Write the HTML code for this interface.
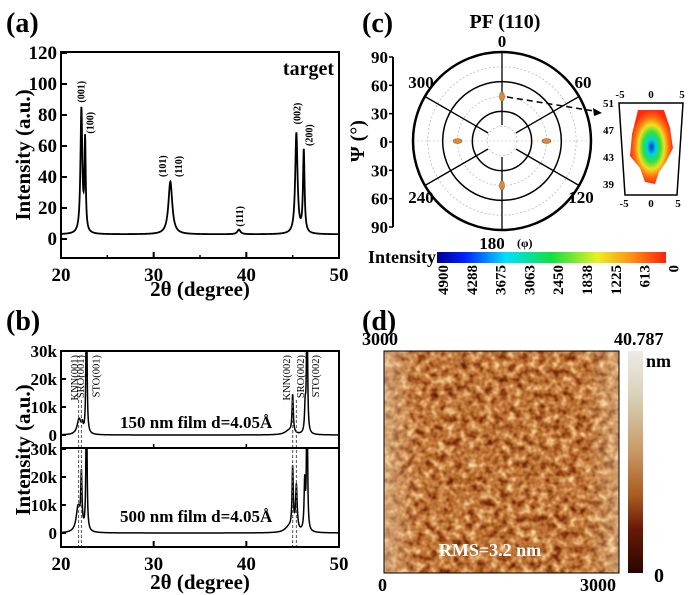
<!DOCTYPE html>
<html><head><meta charset="utf-8"><style>
html,body{margin:0;padding:0;background:#fff;}
svg{display:block;font-family:"Liberation Serif",serif;font-weight:bold;}
</style></head><body>
<svg id="fig" width="693" height="595" viewBox="0 0 693 595">
<defs>
<clipPath id="clipA"><rect x="61" y="52" width="278" height="206"/></clipPath>
<clipPath id="clipB1"><rect x="61" y="351" width="278" height="97"/></clipPath>
<clipPath id="clipB2"><rect x="61" y="448" width="278" height="99"/></clipPath>
<linearGradient id="jet" x1="0" x2="1" y1="0" y2="0">
<stop offset="0" stop-color="#00008f"/><stop offset="0.12" stop-color="#0020ff"/><stop offset="0.3" stop-color="#00e0ff"/>
<stop offset="0.5" stop-color="#10e040"/><stop offset="0.7" stop-color="#e8f020"/><stop offset="0.85" stop-color="#ff9010"/><stop offset="1" stop-color="#ff2010"/></linearGradient>
<linearGradient id="afmbar" x1="0" x2="0" y1="0" y2="1">
<stop offset="0" stop-color="#ecece6"/><stop offset="0.2" stop-color="#d8d2b8"/><stop offset="0.45" stop-color="#c89a68"/>
<stop offset="0.65" stop-color="#a85c20"/><stop offset="0.8" stop-color="#6a1a08"/><stop offset="1" stop-color="#2a0500"/></linearGradient>
<radialGradient id="inset" cx="0.5" cy="0.5" r="0.5">
<stop offset="0" stop-color="#0030d0"/><stop offset="0.2" stop-color="#00d0e0"/><stop offset="0.4" stop-color="#30e040"/>
<stop offset="0.6" stop-color="#f0e020"/><stop offset="0.8" stop-color="#ff7010"/><stop offset="1" stop-color="#ff2a10"/></radialGradient>
<filter id="afm" x="0" y="0" width="100%" height="100%" color-interpolation-filters="sRGB">
<feTurbulence type="fractalNoise" baseFrequency="0.13" numOctaves="2" seed="7" result="n"/>
<feColorMatrix in="n" type="matrix" values="1 0 0 0 0  1 0 0 0 0  1 0 0 0 0  0 0 0 0 1" result="g"/>
<feComponentTransfer in="g">
<feFuncR type="table" tableValues="0.28 0.40 0.55 0.70 0.80 0.90 0.96 0.98"/>
<feFuncG type="table" tableValues="0.06 0.12 0.24 0.40 0.52 0.70 0.86 0.90"/>
<feFuncB type="table" tableValues="0.02 0.03 0.08 0.16 0.28 0.46 0.66 0.74"/>
</feComponentTransfer>
</filter>
<linearGradient id="edge" x1="0" x2="1"><stop offset="0" stop-color="#f0e0c0" stop-opacity="0.45"/><stop offset="0.15" stop-color="#f0e0c0" stop-opacity="0"/><stop offset="0.85" stop-color="#f0e0c0" stop-opacity="0"/><stop offset="1" stop-color="#f0e0c0" stop-opacity="0.4"/></linearGradient>
</defs>

<text x="6" y="32" font-size="28">(a)</text>
<g id="panelA"></g>
<text x="6" y="330" font-size="28">(b)</text>
<g id="panelB"></g>
<text x="362" y="32" font-size="28">(c)</text>
<text x="505" y="28" font-size="20" text-anchor="middle">PF (110)</text>
<g id="panelC"></g>
<text x="362" y="330" font-size="28">(d)</text>
<g id="panelD">
<rect x="384" y="351" width="235" height="222" filter="url(#afm)"/>
<rect x="384" y="351" width="235" height="222" fill="url(#edge)"/>
<rect x="384" y="351" width="235" height="222" fill="none" stroke="#000" stroke-width="1"/>
<text x="490" y="556" font-size="18" fill="#fff" text-anchor="middle">RMS=3.2 nm</text>
<text x="362" y="345" font-size="18">3000</text>
<text x="378" y="591" font-size="18">0</text>
<text x="580" y="591" font-size="18">3000</text>
<rect x="628" y="351" width="15" height="222" fill="url(#afmbar)"/>
<text x="614" y="345" font-size="18">40.787</text>
<text x="646" y="367" font-size="18">nm</text>
<text x="654" y="582" font-size="20">0</text>
</g>
</svg>
<script>
// ---------- Panel A data ----------
const aPeakPos = [22.2, 22.6, 31.8, 39.2, 45.4, 46.2];
const aPeakHeight = [80, 58, 34, 3, 65, 53];
const aPeakWidth = [0.12, 0.08, 0.25, 0.2, 0.15, 0.1];
const aPeakLabels = ["(001)", "(100)", "(101)", "(110)", "(111)", "(002)", "(200)"];
const aLabelPos = [22.1, 23.1, 30.9, 32.6, 39.2, 45.4, 46.7];
const aLabelVal = [88, 68, 40, 40, 8, 74, 60];
const aBaseline = 3;
const aXTicks = [20, 30, 40, 50];
const aYTicks = [0, 20, 40, 60, 80, 100, 120];

// ---------- Panel B data ----------
const bTopPos = [21.95, 22.3, 22.75, 44.6, 45.0, 46.35, 46.55];
const bTopHeight = [5500, 2500, 60000, 1500, 13500, 9000, 60000];
const bTopWidth = [0.25, 0.1, 0.06, 0.5, 0.08, 0.08, 0.06];
const bBotPos = [21.85, 22.2, 22.75, 44.6, 45.0, 45.4, 46.3, 46.55];
const bBotHeight = [9000, 19000, 60000, 2000, 22000, 16000, 17000, 60000];
const bBotWidth = [0.25, 0.08, 0.06, 0.5, 0.08, 0.1, 0.08, 0.06];
const bDashPos = [21.9, 22.2, 45.0, 45.4];
const bLabels = ["KNN(001)", "SRO(001)", "STO(001)", "KNN(002)", "SRO(002)", "STO(002)"];
const bLabelPos = [21.4, 22.05, 23.7, 44.3, 45.8, 47.4];
const bYTicks = [0, 10000, 20000, 30000];
const bYTickLabels = ["0", "10k", "20k", "30k"];

// ---------- Panel C data ----------
const cSpotPhi = [0, 90, 180, 270];
const cSpotPsi = [45, 45, 45, 45];
const cRadialAngles = [0, 60, 120, 180, 240, 300];
const cPsiTicks = ["90", "60", "30", "0", "30", "60", "90"];
const cColorbarLabels = ["4900", "4288", "3675", "3063", "2450", "1838", "1225", "613", "0"];

const NS = "http://www.w3.org/2000/svg";
function mk(tag, attrs, parent) {
  const e = document.createElementNS(NS, tag);
  for (const k in attrs) e.setAttribute(k, attrs[k]);
  parent.appendChild(e);
  return e;
}
function txt(str, attrs, parent) { const t = mk("text", attrs, parent); t.textContent = str; return t; }
function lor(x, pos, h, w) { let s = 0; for (let i = 0; i < pos.length; i++) { const d = (x - pos[i]) / w[i]; s += h[i] / (1 + d * d); } return s; }

// ----- Panel A -----
const gA = document.getElementById("panelA");
const ax = v => 61 + (v - 20) / 30 * 278;
const ay = v => 239 - v * 1.55;
{
  let d = "";
  for (let x = 20; x <= 50; x += 0.02) {
    const v = aBaseline + lor(x, aPeakPos, aPeakHeight, aPeakWidth);
    d += (d ? "L" : "M") + ax(x).toFixed(2) + "," + ay(v).toFixed(2);
  }
  const p = mk("path", { d: d, fill: "none", stroke: "#000", "stroke-width": 1.8, "clip-path": "url(#clipA)" }, gA);
  
  
  const f = mk("rect", { x: 61, y: 52, width: 278, height: 206, fill: "none", stroke: "#000", "stroke-width": 2 }, gA);
  
  
  aXTicks.forEach(t => {
    mk("line", { x1: ax(t), x2: ax(t), y1: 258, y2: 252, stroke: "#000", "stroke-width": 2 }, gA);
    const l = txt(String(t), { x: ax(t), y: 281, "font-size": 19, "text-anchor": "middle" }, gA);
    
    
    if (t < 50) mk("line", { x1: ax(t + 5), x2: ax(t + 5), y1: 258, y2: 255, stroke: "#000", "stroke-width": 1.5 }, gA);
  });
  aYTicks.forEach(t => {
    mk("line", { x1: 61, x2: 67, y1: ay(t), y2: ay(t), stroke: "#000", "stroke-width": 2 }, gA);
    const l = txt(String(t), { x: 57, y: ay(t) + 6, "font-size": 19, "text-anchor": "end" }, gA);
    
    
  });
  aPeakLabels.forEach((s, i) => {
    const x = ax(aLabelPos[i]) + 4, y = ay(aLabelVal[i]);
    const l = txt(s, { x: x, y: y, "font-size": 10, "text-anchor": "start", transform: `rotate(-90 ${x} ${y})` }, gA);
    
    
  });
  const tg = txt("target", { x: 334, y: 75, "font-size": 20, "text-anchor": "end" }, gA);
  
  
  const yt = txt("Intensity (a.u.)", { x: 30, y: 155, "font-size": 21, "text-anchor": "middle", transform: "rotate(-90 30 155)" }, gA);
  
  
  const xt = txt("2θ (degree)", { x: 200, y: 296, "font-size": 21, "text-anchor": "middle" }, gA);
  
  
}

// ----- Panel B -----
const gB = document.getElementById("panelB");
const bx = v => 61 + (v - 20) / 30 * 278;
const by1 = v => 435 - v / 30000 * 84;
const by2 = v => 533 - v / 30000 * 84;
{
  function curve(pos, h, w, yf, clip, name) {
    let d = "";
    for (let x = 20; x <= 50; x += 0.01) {
      const v = lor(x, pos, h, w);
      d += (d ? "L" : "M") + bx(x).toFixed(2) + "," + yf(v).toFixed(2);
    }
    const p = mk("path", { d: d, fill: "none", stroke: "#000", "stroke-width": 1.5, "clip-path": clip }, gB);
    
    
  }
  curve(bTopPos, bTopHeight, bTopWidth, by1, "url(#clipB1)", "xrd-150nm-curve");
  curve(bBotPos, bBotHeight, bBotWidth, by2, "url(#clipB2)", "xrd-500nm-curve");
  bDashPos.forEach(p => {
    const l = mk("line", { x1: bx(p), x2: bx(p), y1: 400, y2: 547, stroke: "#555", "stroke-width": 1, "stroke-dasharray": "3,2" }, gB);
    
    
  });
  const f1 = mk("rect", { x: 61, y: 351, width: 278, height: 97, fill: "none", stroke: "#000", "stroke-width": 2 }, gB);
  
  
  const f2 = mk("rect", { x: 61, y: 448, width: 278, height: 99, fill: "none", stroke: "#000", "stroke-width": 2 }, gB);
  
  
  aXTicks.forEach(t => {
    mk("line", { x1: bx(t), x2: bx(t), y1: 547, y2: 541, stroke: "#000", "stroke-width": 2 }, gB);
    mk("line", { x1: bx(t), x2: bx(t), y1: 448, y2: 444, stroke: "#000", "stroke-width": 1.5 }, gB);
    const l = txt(String(t), { x: bx(t), y: 570, "font-size": 19, "text-anchor": "middle" }, gB);
    
    
  });
  bYTicks.forEach((t, i) => {
    [by1, by2].forEach(yf => {
      mk("line", { x1: 61, x2: 66, y1: yf(t), y2: yf(t), stroke: "#000", "stroke-width": 2 }, gB);
      const l = txt(bYTickLabels[i], { x: 57, y: yf(t) + 6, "font-size": 17, "text-anchor": "end" }, gB);
      
      
    });
  });
  bLabels.forEach((s, i) => {
    const x = bx(bLabelPos[i]) + 4, y = 355;
    const l = txt(s, { x: x, y: y, "font-size": 10.5, "font-weight": "normal", "text-anchor": "end", transform: `rotate(-90 ${x} ${y})` }, gB);
    
    
  });
  const t1 = txt("150 nm film  d=4.05Å", { x: 120, y: 428, "font-size": 17, "xml:space": "preserve" }, gB);
  
  
  const t2 = txt("500 nm film  d=4.05Å", { x: 120, y: 522, "font-size": 17, "xml:space": "preserve" }, gB);
  
  
  const yt = txt("Intensity (a.u.)", { x: 30, y: 450, "font-size": 21, "text-anchor": "middle", transform: "rotate(-90 30 450)" }, gB);
  
  
  const xt = txt("2θ (degree)", { x: 200, y: 589, "font-size": 21, "text-anchor": "middle" }, gB);
  
  
}

// ----- Panel C -----
const gC = document.getElementById("panelC");
const cx = 502, cy = 141, R = 89;
const rpsi = psi => psi / 90 * R;
{
  for (let p = 15; p < 90; p += 15) {
    if (p % 30 === 0) continue;
    mk("circle", { cx: cx, cy: cy, r: rpsi(p), fill: "none", stroke: "#bbb", "stroke-width": 0.8, "stroke-dasharray": "2,2" }, gC);
  }
  mk("line", { x1: cx - R, x2: cx + R, y1: cy, y2: cy, stroke: "#ccc", "stroke-width": 0.8, "stroke-dasharray": "2,2" }, gC);
  [30, 60].forEach(p => mk("circle", { cx: cx, cy: cy, r: rpsi(p), fill: "none", stroke: "#000", "stroke-width": 1.5 }, gC));
  const oc = mk("circle", { cx: cx, cy: cy, r: R, fill: "none", stroke: "#000", "stroke-width": 2.5 }, gC);
  
  
  cRadialAngles.forEach(a => {
    const t = a * Math.PI / 180;
    const l = mk("line", { x1: cx + 16 * Math.sin(t), y1: cy - 16 * Math.cos(t), x2: cx + R * Math.sin(t), y2: cy - R * Math.cos(t), stroke: "#000", "stroke-width": 1.3 }, gC);
    
    
  });
  cSpotPhi.forEach((phi, i) => {
    const t = phi * Math.PI / 180, r = rpsi(cSpotPsi[i]);
    const vert = phi % 180 === 0;
    const e = mk("ellipse", { cx: cx + r * Math.sin(t), cy: cy - r * Math.cos(t), rx: vert ? 2.5 : 4.5, ry: vert ? 4.5 : 2.5, fill: "#d88a40", stroke: "#a06020", "stroke-width": 0.6 }, gC);
    
    
  });
  const ar = mk("path", { d: `M${cx + 5},${cy - 44} L${cx + 92},${cy - 30}`, stroke: "#000", "stroke-width": 1.5, fill: "none", "stroke-dasharray": "6,4" }, gC);
  
  
  mk("path", { d: `M${cx + 100},${cy - 28} l-9,-5 l1,8z`, fill: "#000" }, gC);
  const phiLabels = [["0", cx, 47], ["60", 583, 88], ["120", 581, 203], ["180", 492, 249], ["240", 421, 203], ["300", 421, 88]];
  phiLabels.forEach(p => {
    const l = txt(p[0], { x: p[1], y: p[2], "font-size": 17, "text-anchor": "middle" }, gC);
    
    
  });
  txt("(φ)", { x: 517, y: 247, "font-size": 12 }, gC);
  mk("line", { x1: 393, x2: 393, y1: 57, y2: 227, stroke: "#000", "stroke-width": 2 }, gC);
  cPsiTicks.forEach((s, i) => {
    const y = 57 + i * (170 / 6);
    mk("line", { x1: 389, x2: 393, y1: y, y2: y, stroke: "#000", "stroke-width": 1.5 }, gC);
    const l = txt(s, { x: 388, y: y + 6, "font-size": 17, "text-anchor": "end" }, gC);
    
    
  });
  const pt = txt("Ψ (°)", { x: 364, y: 141, "font-size": 20, "text-anchor": "middle", transform: "rotate(-90 364 141)" }, gC);
  
  
  const ins = mk("path", { d: "M619,103 L683,103 L677,195 L625,195 Z", fill: "#fff", stroke: "#000", "stroke-width": 1.5 }, gC);
  
  
  const blob = mk("path", { d: "M638,110 L664,110 L670,128 L673,148 L666,162 L659,172 L655,184 L645,182 L640,168 L630,156 L632,134 Z", fill: "url(#inset)" }, gC);
  
  
  ["51", "47", "43", "39"].forEach((s, i) => txt(s, { x: 614, y: 107 + i * 27, "font-size": 11, "text-anchor": "end" }, gC));
  ["-5", "0", "5"].forEach((s, i) => {
    txt(s, { x: 620 + i * 31, y: 98, "font-size": 11, "text-anchor": "middle" }, gC);
    txt(s, { x: 624 + i * 27, y: 207, "font-size": 11, "text-anchor": "middle" }, gC);
  });
  const cb = mk("rect", { x: 437, y: 252, width: 229, height: 11, fill: "url(#jet)" }, gC);
  
  
  txt("Intensity", { x: 436, y: 263, "font-size": 18, "text-anchor": "end" }, gC);
  cColorbarLabels.forEach((s, i) => {
    const x = 443 + i * 28.8, y = 265;
    const l = txt(s, { x: x + 5, y: y, "font-size": 15, "text-anchor": "end", transform: `rotate(-90 ${x + 5} ${y})` }, gC);
    
    
  });
}
</script>
</body></html>
